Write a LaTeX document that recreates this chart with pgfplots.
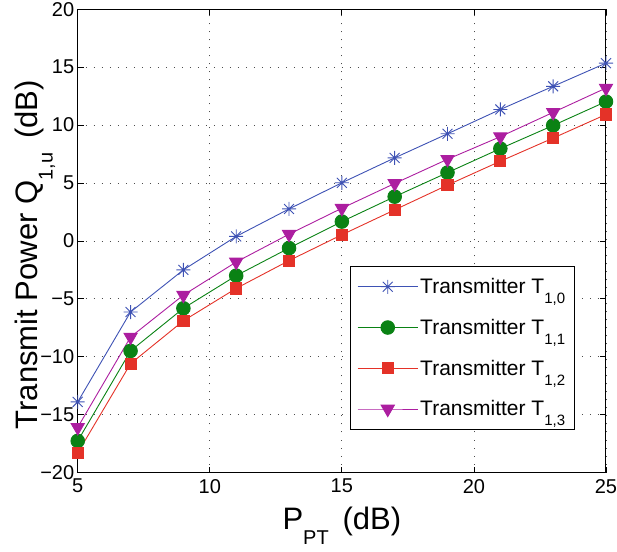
\documentclass[border=0pt]{standalone}
\usepackage{pgfplots}
\pgfplotsset{compat=1.18}
\usepackage{fontspec}
\setmainfont{Liberation Sans}

\definecolor{cblue}{RGB}{62,82,180}
\definecolor{cgreen}{RGB}{10,130,20}
\definecolor{cred}{RGB}{228,50,40}
\definecolor{cmag}{RGB}{172,30,160}

% MATLAB-style subscripts: smaller and set well below the baseline
\newcommand{\bigsub}[1]{\raisebox{-15pt}{\fontsize{20}{20}\selectfont #1}}
\newcommand{\legsub}[1]{\raisebox{-10pt}{\fontsize{15}{15}\selectfont #1}}

% MATLAB-style '*' mark: plus and cross together
\pgfdeclareplotmark{mstar}{%
  \pgfpathmoveto{\pgfqpoint{-\pgfplotmarksize}{0pt}}\pgfpathlineto{\pgfqpoint{\pgfplotmarksize}{0pt}}%
  \pgfpathmoveto{\pgfqpoint{0pt}{-\pgfplotmarksize}}\pgfpathlineto{\pgfqpoint{0pt}{\pgfplotmarksize}}%
  \pgfpathmoveto{\pgfqpoint{-.707\pgfplotmarksize}{-.707\pgfplotmarksize}}\pgfpathlineto{\pgfqpoint{.707\pgfplotmarksize}{.707\pgfplotmarksize}}%
  \pgfpathmoveto{\pgfqpoint{-.707\pgfplotmarksize}{.707\pgfplotmarksize}}\pgfpathlineto{\pgfqpoint{.707\pgfplotmarksize}{-.707\pgfplotmarksize}}%
  \pgfusepathqstroke}

\begin{document}
\begin{tikzpicture}
\begin{axis}[
  scale only axis, width=528pt, height=463pt,
  xmin=5, xmax=25, ymin=-20, ymax=20,
  xtick={5,10,15,20,25}, ytick={-20,-15,...,20},
  yticklabels={−20,−15,−10,−5,0,5,10,15,20},
  grid=major, grid style={black!70, line width=0.8pt, dash pattern=on 1pt off 7pt},
  axis line style={line width=1pt}, tick style={black, line width=0.8pt},
  major tick length=6pt,
  tick label style={font=\fontsize{20}{23}\selectfont},
  /pgf/number format/assume math mode=true,
  xticklabel style={yshift=-3pt},
  yticklabel style={xshift=0pt},
  label style={font=\fontsize{31}{34}\selectfont, inner sep=0pt},
  xlabel={P\bigsub{PT}\, (dB)},
  ylabel={Transmit Power Q\bigsub{1,u}\, (dB)},
  xlabel style={at={(axis description cs:0.5,0)}, anchor=base, yshift=-57pt},
  ylabel style={at={(axis description cs:0,0.47)}, anchor=base, yshift=40pt},
  legend style={at={(0.515,0.446)}, anchor=north west, draw=black, line width=1pt,
    font=\fontsize{21}{24}\selectfont, row sep=20pt, inner xsep=7pt, inner ysep=10pt,
    cells={anchor=west}},
  legend image code/.code={\draw[mark repeat=2,mark phase=2] plot coordinates {(0pt,0pt) (30pt,0pt) (60pt,0pt)};},
  every axis plot/.append style={line width=0.9pt},
]
\addplot[cblue, mark=mstar, mark size=7pt, mark options={line width=0.9pt}] coordinates {
(5,-13.9) (7,-6.14) (9,-2.5) (11,0.39) (13,2.76) (15,5.02) (17,7.17) (19,9.25) (21,11.35) (23,13.35) (25,15.35)};
\addlegendentry{Transmitter T\legsub{1,0}}
\addplot[cgreen, mark=*, mark size=6.8pt, mark options={fill=cgreen}] coordinates {
(5,-17.27) (7,-9.5) (9,-5.82) (11,-3.0) (13,-0.62) (15,1.67) (17,3.82) (19,5.9) (21,7.97) (23,9.97) (25,12.03)};
\addlegendentry{Transmitter T\legsub{1,1}}
\addplot[cred, mark=square*, mark size=5.6pt, mark options={fill=cred}] coordinates {
(5,-18.3) (7,-10.6) (9,-6.9) (11,-4.1) (13,-1.7) (15,0.53) (17,2.68) (19,4.82) (21,6.88) (23,8.88) (25,10.92)};
\addlegendentry{Transmitter T\legsub{1,2}}
\addplot[cmag, mark=triangle*, mark size=7.6pt, mark options={fill=cmag, rotate=180}] coordinates {
(5,-16.1) (7,-8.3) (9,-4.68) (11,-1.82) (13,0.58) (15,2.82) (17,4.96) (19,7.05) (21,9.0) (23,11.1) (25,13.2)};
\addlegendentry{Transmitter T\legsub{1,3}}
\end{axis}
\pgfresetboundingbox
\path ([shift={(-77.7pt,-79.3pt)}]current axis.south west) rectangle ([shift={(11pt,9.3pt)}]current axis.north east);
\end{tikzpicture}
\end{document}
